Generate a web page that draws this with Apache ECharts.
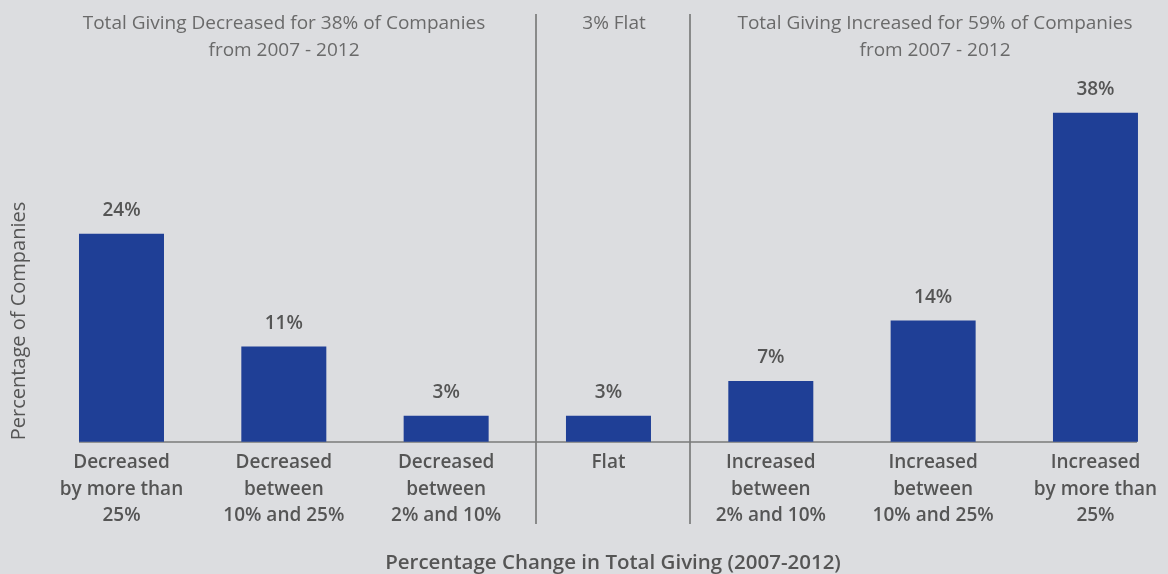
<!DOCTYPE html>
<html>
<head>
<meta charset="utf-8">
<script src="https://cdn.jsdelivr.net/npm/echarts@6/dist/echarts.min.js"></script>
<style>
html,body{margin:0;padding:0;background:#dcdde0;}
#chart{width:1168px;height:574px;}
</style>
</head>
<body>
<div id="chart"></div>
<script>
const categories = [
  'Decreased\nby more than\n25%',
  'Decreased\nbetween\n10% and 25%',
  'Decreased\nbetween\n2% and 10%',
  'Flat',
  'Increased\nbetween\n2% and 10%',
  'Increased\nbetween\n10% and 25%',
  'Increased\nby more than\n25%'
];
const values = [24, 11, 3, 3, 7, 14, 38];
const groupTitles = [
  'Total Giving Decreased for 38% of Companies\nfrom 2007 - 2012',
  '3% Flat',
  'Total Giving Increased for 59% of Companies\nfrom 2007 - 2012'
];
const separatorsX = [2.555, 3.502];
const yAxisName = 'Percentage of Companies';
const xAxisName = 'Percentage Change in Total Giving (2007-2012)';

const chart = echarts.init(document.getElementById('chart'));
const FONT = '"Open Sans", "Noto Sans", sans-serif';
const yMin = 0, yMax = 49.39, sepBottom = -9.5;

const titleStyle = {fontFamily: FONT, fontSize: 19, fontWeight: 'normal', color: '#6a6a6a', lineHeight: 27};
chart.setOption({
  backgroundColor: '#dcdde0',
  animation: false,
  title: [
    {text: groupTitles[0], left: 284, top: 10, textAlign: 'center', padding: 0, textStyle: titleStyle},
    {text: groupTitles[1], left: 614, top: 10, textAlign: 'center', padding: 0, textStyle: titleStyle},
    {text: groupTitles[2], left: 935, top: 10, textAlign: 'center', padding: 0, textStyle: titleStyle},
    {text: xAxisName, left: 613, top: 551, textAlign: 'center', padding: 0,
     textStyle: {fontFamily: FONT, fontSize: 20.5, fontWeight: 600, color: '#555', lineHeight: 24}}
  ],
  graphic: [{
    type: 'text', x: 19, y: 321, rotation: Math.PI / 2,
    style: {text: yAxisName, fontFamily: FONT, fontSize: 20, fontWeight: 'normal', fill: '#555',
            align: 'center', verticalAlign: 'middle'}
  }],
  grid: {left: 40.33, width: 1136.3, top: 14, height: 427.7, outerBoundsMode: 'none', containLabel: false},
  xAxis: [{
    type: 'category', data: categories, position: 'bottom',
    axisLine: {show: false},
    axisTick: {show: false},
    axisLabel: {interval: 0, margin: 8, fontFamily: FONT, fontSize: 19, fontWeight: 600, color: '#555', lineHeight: 26.5}
  }, {
    type: 'value', min: -0.5, max: 6.5, show: false
  }],
  yAxis: {type: 'value', min: yMin, max: yMax, show: false, splitLine: {show: false}},
  series: [{
    type: 'bar', data: values, barWidth: 85, xAxisIndex: 0,
    itemStyle: {color: '#1f3f96'},
    label: {show: true, position: 'top', distance: 13, formatter: '{c}%',
            fontFamily: FONT, fontSize: 19, fontWeight: 600, color: '#555', lineHeight: 20}
  }, {
    type: 'lines', coordinateSystem: 'cartesian2d', xAxisIndex: 1, yAxisIndex: 0, clip: false,
    lineStyle: {color: '#6e6e6e', width: 1.5, opacity: 1},
    data: separatorsX.map(x => ({coords: [[x, yMax], [x, sepBottom]]})).concat([
      {coords: [[-0.262, 0], [6.256, 0]], lineStyle: {color: '#7a7a7a', width: 1.5}}
    ])
  }]
});
</script>
</body>
</html>
